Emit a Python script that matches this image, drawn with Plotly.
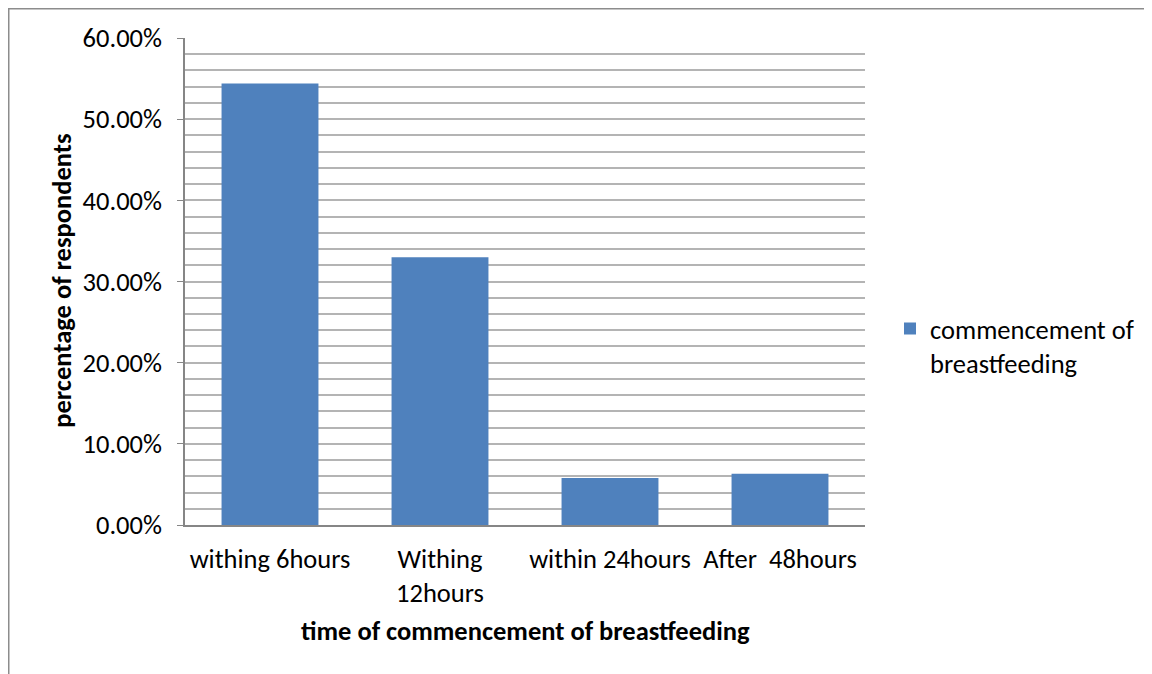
import plotly.graph_objects as go

categories = ["withing 6hours", "Withing<br>12hours", "within 24hours", "After  48hours"]
values = [0.544, 0.330, 0.058, 0.063]
series_name = "commencement of<br>breastfeeding"
y_title = "percentage of respondents"
x_title = "time of commencement of breastfeeding"

FONT = "Carlito, Calibri, 'Open Sans', sans-serif"
FS = 26.5
OFF = 8  # browser body margin
W, H = 1152, 674
# plot area in reference page coordinates
PX0, PX1, PY0, PY1 = 185, 865, 38, 525.5
L = PX0 - OFF
T = PY0 - OFF
R = W - (PX1 - OFF)
B = H - (PY1 - OFF)
PW = PX1 - PX0
PH = PY1 - PY0


def px(xp):
    return (xp - PX0) / PW


def py(yp):
    return (PY1 - yp) / PH


fig = go.Figure()
fig.add_trace(go.Bar(
    x=categories, y=values, name=series_name,
    marker=dict(color="#4F81BD", line=dict(width=0)),
    width=0.57,
))

fig.update_layout(
    width=W, height=H,
    margin=dict(l=L, r=R, t=T, b=B, autoexpand=False),
    paper_bgcolor="white", plot_bgcolor="white",
    font=dict(family=FONT, size=FS, color="black"),
    showlegend=True,
    legend=dict(
        x=px(890), xanchor="left",
        y=py(305), yanchor="top",
        valign="top",
        font=dict(size=FS),
        bgcolor="rgba(0,0,0,0)",
    ),
)
fig.update_yaxes(
    range=[0, 0.6], dtick=0.1, tickformat=".2%",
    showgrid=True, gridcolor="#B4B4B4", gridwidth=1.5,
    minor=dict(dtick=0.02, showgrid=True, gridcolor="#B4B4B4", gridwidth=1.5),
    showline=True, linecolor="#868686", linewidth=1.5,
    ticks="outside", ticklen=6, tickcolor="#868686",
    ticklabelstandoff=10,
    zeroline=False,
    tickfont=dict(size=FS),
)
fig.update_xaxes(
    showline=True, linecolor="#868686", linewidth=1.5,
    ticks="", showgrid=False,
    tickfont=dict(size=FS),
    ticklabelstandoff=9,
)

fig.add_annotation(
    text="<b>" + y_title + "</b>", textangle=-90,
    xref="paper", yref="paper",
    x=px(62), y=py(281),
    xanchor="center", yanchor="middle", showarrow=False,
    font=dict(size=FS),
)
fig.add_annotation(
    text="<b>" + x_title + "</b>",
    xref="paper", yref="paper",
    x=px(525), y=py(632),
    xanchor="center", yanchor="middle", showarrow=False,
    font=dict(size=FS),
)
# outer chart border (top and left visible)
fig.add_shape(type="line", xref="paper", yref="paper",
              x0=px(8), x1=px(W + 20), y0=py(8.5), y1=py(8.5),
              line=dict(color="#8C8C8C", width=2))
fig.add_shape(type="line", xref="paper", yref="paper",
              x0=px(8.5), x1=px(8.5), y0=py(8), y1=py(H + 20),
              line=dict(color="#8C8C8C", width=2))

fig.write_html("out.html")
